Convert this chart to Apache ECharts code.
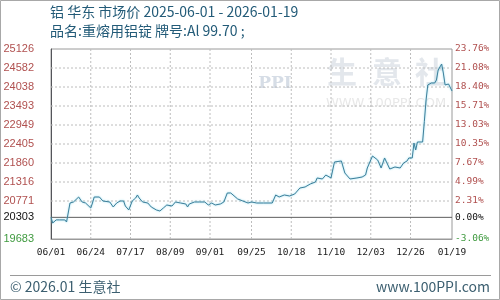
<!DOCTYPE html>
<html><head><meta charset="utf-8">
<script src="https://cdn.jsdelivr.net/npm/echarts@6/dist/echarts.min.js"></script>
<style>html,body{margin:0;padding:0;background:#fff}#c{width:500px;height:300px}</style>
</head><body><div id="c"></div>
<script>
const dates = ['2025-06-01','2025-06-02','2025-06-04','2025-06-06','2025-06-09','2025-06-10','2025-06-12','2025-06-14','2025-06-15','2025-06-17','2025-06-19','2025-06-21','2025-06-24','2025-06-25','2025-06-26','2025-06-29','2025-07-01','2025-07-02','2025-07-05','2025-07-07','2025-07-09','2025-07-11','2025-07-13','2025-07-14','2025-07-16','2025-07-18','2025-07-20','2025-07-21','2025-07-22','2025-07-24','2025-07-27','2025-07-29','2025-08-01','2025-08-03','2025-08-05','2025-08-07','2025-08-10','2025-08-12','2025-08-15','2025-08-18','2025-08-19','2025-08-20','2025-08-23','2025-08-26','2025-08-29','2025-08-31','2025-09-02','2025-09-04','2025-09-07','2025-09-09','2025-09-11','2025-09-13','2025-09-14','2025-09-17','2025-09-20','2025-09-23','2025-09-25','2025-09-28','2025-10-02','2025-10-07','2025-10-09','2025-10-11','2025-10-14','2025-10-17','2025-10-20','2025-10-23','2025-10-26','2025-10-29','2025-11-01','2025-11-02','2025-11-05','2025-11-07','2025-11-08','2025-11-10','2025-11-12','2025-11-13','2025-11-16','2025-11-18','2025-11-19','2025-11-21','2025-11-25','2025-11-28','2025-11-30','2025-12-01','2025-12-04','2025-12-05','2025-12-07','2025-12-09','2025-12-11','2025-12-12','2025-12-14','2025-12-15','2025-12-17','2025-12-20','2025-12-22','2025-12-24','2025-12-25','2025-12-27','2025-12-28','2025-12-29','2025-12-30','2025-12-31','2026-01-02','2026-01-03','2026-01-04','2026-01-05','2026-01-07','2026-01-09','2026-01-10','2026-01-11','2026-01-13','2026-01-14','2026-01-15','2026-01-17','2026-01-19'];
const prices = [20303,20141,20230,20230,20230,20170,20714,20743,20714,20886,20743,20714,20571,20714,20886,20886,20772,20800,20743,20600,20714,20772,20772,20628,20514,20772,20858,20944,20858,20743,20714,20600,20514,20485,20571,20657,20628,20743,20714,20686,20600,20686,20743,20743,20743,20657,20714,20657,20686,20743,21001,21001,20944,20829,20772,20714,20743,20714,20714,20714,20944,20886,20944,20915,20972,21144,21173,21259,21316,21431,21402,21516,21488,21431,21889,21918,21918,21574,21516,21402,21431,21459,21516,21717,22061,22061,21946,21717,22004,22004,21688,21631,21746,21717,21860,21918,22004,22004,22433,22233,22462,22433,22462,23049,23665,24095,24152,24152,24238,24524,24696,24438,24095,24123,23923];
const basePrice = 20303;
const xTickDates = ['2025-06-01','2025-06-24','2025-07-17','2025-08-09','2025-09-01','2025-09-25','2025-10-18','2025-11-10','2025-12-03','2025-12-26','2026-01-19'];
const xTickLabels = ['06/01','06/24','07/17','08/09','09/01','09/25','10/18','11/10','12/03','12/26','01/19'];
const yTickValues = [19683,20303,20771.4,21315.7,21860,22404.3,22948.6,23492.9,24037.2,24581.5,25126];
const yTickLabels = ['19683','20303','20771','21316','21860','22405','22949','23493','24038','24582','25126'];
const pctTickLabels = ['-3.06%','0.00%','2.31%','4.99%','7.67%','10.35%','13.03%','15.71%','18.40%','21.08%','23.76%'];

const DAY = 86400000;
const t0 = Date.parse(dates[0] + 'T00:00:00Z');
const dayOf = s => Math.round((Date.parse(s + 'T00:00:00Z') - t0) / DAY);
const seriesData = dates.map((d, i) => [dayOf(d), prices[i]]);
const xTicks = xTickDates.map(dayOf);
const xMax = xTicks[xTicks.length - 1];
const yMin = yTickValues[0], yMax = yTickValues[yTickValues.length - 1];

function labelColor(idx) {
  if (idx === 0) return '#3f9a3f';
  if (idx === 1) return '#111111';
  return '#b0504f';
}
const dotted = {color: '#bdbdbd', type: [2, 2], width: 1};
const gridSeries = []
  .concat(xTicks.slice(1, -1).map(t => [[t, yMin], [t, yMax]]))
  .concat(yTickValues.slice(2, -1).map(v => [[0, v], [xMax, v]]))
  .map(d => ({type: 'line', data: d, symbol: 'none', silent: true, z: 1, lineStyle: dotted}));
const baseSeries = {type: 'line', data: [[0, basePrice], [xMax, basePrice]], symbol: 'none', silent: true, z: 2,
  lineStyle: {color: '#5e5e5e', width: 1}};

const chart = echarts.init(document.getElementById('c'));
chart.setOption({
  animation: false,
  backgroundColor: '#fff',
  grid: {left: 51, right: 48, top: 49, bottom: 61, show: true, borderColor: '#9a9a9a'},
  xAxis: {type: 'value', min: 0, max: xMax, axisLabel: {show: false}, axisTick: {show: false},
    axisLine: {lineStyle: {color: '#9a9a9a'}}, splitLine: {show: false}},
  yAxis: {type: 'value', min: yMin, max: yMax, axisLabel: {show: false}, axisTick: {show: false}, splitLine: {show: false}},
  series: gridSeries.concat([baseSeries, {
    type: 'line', data: seriesData, showSymbol: false, symbol: 'none', z: 3,
    lineStyle: {color: '#3f7f9a', width: 1, shadowColor: 'rgba(110,210,235,0.9)', shadowBlur: 2}
  }])
});

// tick labels placed through the chart's own scales
const px = (x, y) => chart.convertToPixel({gridIndex: 0}, [x, y]);
const texts = [];
yTickValues.forEach((v, i) => {
  const p = px(0, v), q = px(xMax, v);
  texts.push({type: 'text', silent: true, x: p[0] - 17, y: p[1],
    style: {text: yTickLabels[i], font: '11px "Liberation Sans"', fill: labelColor(i), align: 'right', verticalAlign: 'middle'}});
  texts.push({type: 'text', silent: true, x: q[0] + 3, y: q[1],
    style: {text: pctTickLabels[i], font: '9.5px "DejaVu Sans Mono"', fill: labelColor(i), align: 'left', verticalAlign: 'middle'}});
});
xTicks.forEach((t, i) => {
  const p = px(t, yMin);
  texts.push({type: 'text', silent: true, x: p[0], y: p[1] + 9,
    style: {text: xTickLabels[i], font: '9.5px "DejaVu Sans Mono"', fill: '#222', align: 'center', verticalAlign: 'top'}});
});
const titleColor = '#235b78';
chart.setOption({
  graphic: texts.concat([
    {type: 'rect', z: 100, silent: true, shape: {x: 0.5, y: 0.5, width: 499, height: 299}, style: {fill: 'none', stroke: '#a8a8a8'}},
    {type: 'rect', z: 100, silent: true, shape: {x: 10, y: 275, width: 481, height: 1}, style: {fill: '#9a9a9a'}},
    {type: 'text', silent: true, x: 50, y: 5, style: {text: '铝 华东 市场价 2025-06-01 - 2026-01-19', font: '14px "Noto Sans CJK SC"', fill: titleColor, align: 'left', verticalAlign: 'top'}},
    {type: 'text', silent: true, x: 50, y: 24, style: {text: '品名:重熔用铝锭 牌号:Al 99.70 ;', font: '14px "Noto Sans CJK SC"', fill: titleColor, align: 'left', verticalAlign: 'top'}},
    {type: 'text', silent: true, x: 10, y: 287, style: {text: '© 2026.01 生意社', font: '14px "Noto Sans CJK SC"', fill: '#3c5f70', align: 'left', verticalAlign: 'middle'}},
    {type: 'text', silent: true, x: 490, y: 287, style: {text: 'www.100PPI.com', font: '14px "Noto Sans CJK SC"', fill: '#3c5f70', align: 'right', verticalAlign: 'middle'}},
    {type: 'text', z: -1, silent: true, x: 275, y: 84, style: {text: 'PPI', font: 'bold 17px "DejaVu Serif"', fill: '#d6dde6', align: 'center', verticalAlign: 'middle'}},
    {type: 'text', z: -1, silent: true, x: 342, y: 72, style: {text: '生', font: 'bold 30px "Noto Sans CJK SC"', fill: '#e3e7ec', align: 'center', verticalAlign: 'middle'}},
    {type: 'text', z: -1, silent: true, x: 387, y: 72, style: {text: '意', font: 'bold 30px "Noto Sans CJK SC"', fill: '#e3e7ec', align: 'center', verticalAlign: 'middle'}},
    {type: 'text', z: -1, silent: true, x: 430, y: 72, style: {text: '社', font: 'bold 30px "Noto Sans CJK SC"', fill: '#e3e7ec', align: 'center', verticalAlign: 'middle'}},
    {type: 'text', z: -1, silent: true, x: 386, y: 104, style: {text: 'WWW.100PPI.COM', font: '13px "DejaVu Sans"', fill: '#e8e8e8', align: 'center', verticalAlign: 'middle'}}
  ])
});
</script></body></html>
